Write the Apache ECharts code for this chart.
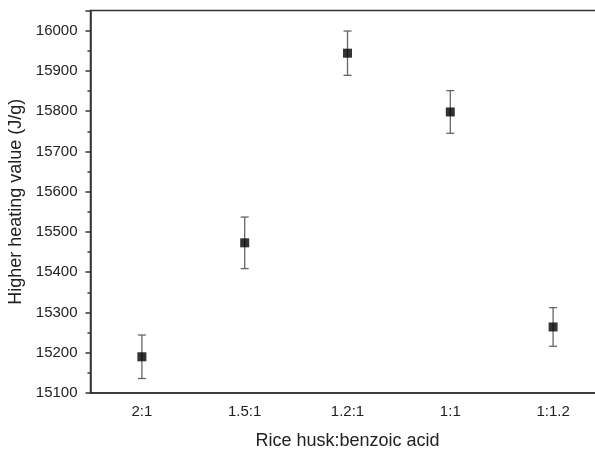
<!DOCTYPE html>
<html><head><meta charset="utf-8">
<script src="https://cdn.jsdelivr.net/npm/echarts@6/dist/echarts.min.js"></script>
<style>html,body{margin:0;padding:0;background:#fff}#c{width:595px;height:449px}</style>
</head><body><div id="c"></div>
<script>
const categories = ['2:1', '1.5:1', '1.2:1', '1:1', '1:1.2'];
const hhv = [15190, 15473, 15944, 15798, 15264];
const hhvErr = [54, 64, 55, 53, 48];
const yTicks = [15100, 15200, 15300, 15400, 15500, 15600, 15700, 15800, 15900, 16000];

const chart = echarts.init(document.getElementById('c'));
const font = 'Liberation Sans, Arial, sans-serif';
chart.setOption({
  animation: false,
  grid: {left: 90.5, top: 10.5, width: 514, bottom: 56, outerBoundsMode: 'none', containLabel: false,
    show: true, borderColor: '#333', borderWidth: 1.5},
  xAxis: [{
    type: 'category', data: categories, boundaryGap: true,
    name: 'Rice husk:benzoic acid', nameLocation: 'middle', nameGap: 39,
    nameTextStyle: {fontFamily: font, fontSize: 18, color: '#222'},
    axisLine: {lineStyle: {color: '#333', width: 1.5}},
    axisTick: {alignWithLabel: true, length: 5, lineStyle: {color: '#333', width: 1.5}},
    axisLabel: {fontFamily: font, fontSize: 15, color: '#222', margin: 11},
    splitLine: {show: false}
  }, {
    type: 'category', data: categories, boundaryGap: true, position: 'bottom',
    axisLine: {show: false},
    axisTick: {length: 3, lineStyle: {color: '#333', width: 1.5}},
    axisLabel: {show: false}, splitLine: {show: false}
  }],
  yAxis: {
    type: 'value', min: yTicks[0], max: 16050, interval: 100,
    name: 'Higher heating value (J/g)', nameLocation: 'middle', nameGap: 63,
    nameTextStyle: {fontFamily: font, fontSize: 18, color: '#222'},
    axisLine: {show: true, lineStyle: {color: '#333', width: 1.5}},
    axisTick: {show: true, inside: false, length: 5, lineStyle: {color: '#333', width: 1.5}},
    minorTick: {show: true, splitNumber: 2, length: 3, lineStyle: {color: '#333', width: 1.5}},
    axisLabel: {fontFamily: font, fontSize: 15, color: '#222', margin: 13,
      formatter: v => (yTicks.indexOf(v) >= 0 ? String(v) : '')},
    splitLine: {show: false}
  },
  series: [{
    type: 'custom',
    renderItem: function (params, api) {
      const x = api.value(0), v = api.value(1), e = api.value(2);
      const top = api.coord([x, v + e]);
      const bot = api.coord([x, v - e]);
      const w = 4;
      const style = {stroke: '#666', lineWidth: 1.3};
      return {type: 'group', children: [
        {type: 'line', shape: {x1: top[0], y1: top[1], x2: bot[0], y2: bot[1]}, style},
        {type: 'line', shape: {x1: top[0] - w, y1: top[1], x2: top[0] + w, y2: top[1]}, style},
        {type: 'line', shape: {x1: bot[0] - w, y1: bot[1], x2: bot[0] + w, y2: bot[1]}, style}
      ]};
    },
    data: hhv.map((v, i) => [i, v, hhvErr[i]]),
    z: 2
  }, {
    type: 'scatter', symbol: 'rect', symbolSize: 9,
    itemStyle: {color: '#000'},
    data: hhv.map((v, i) => [i, v]),
    z: 3
  }]
});
</script></body></html>
